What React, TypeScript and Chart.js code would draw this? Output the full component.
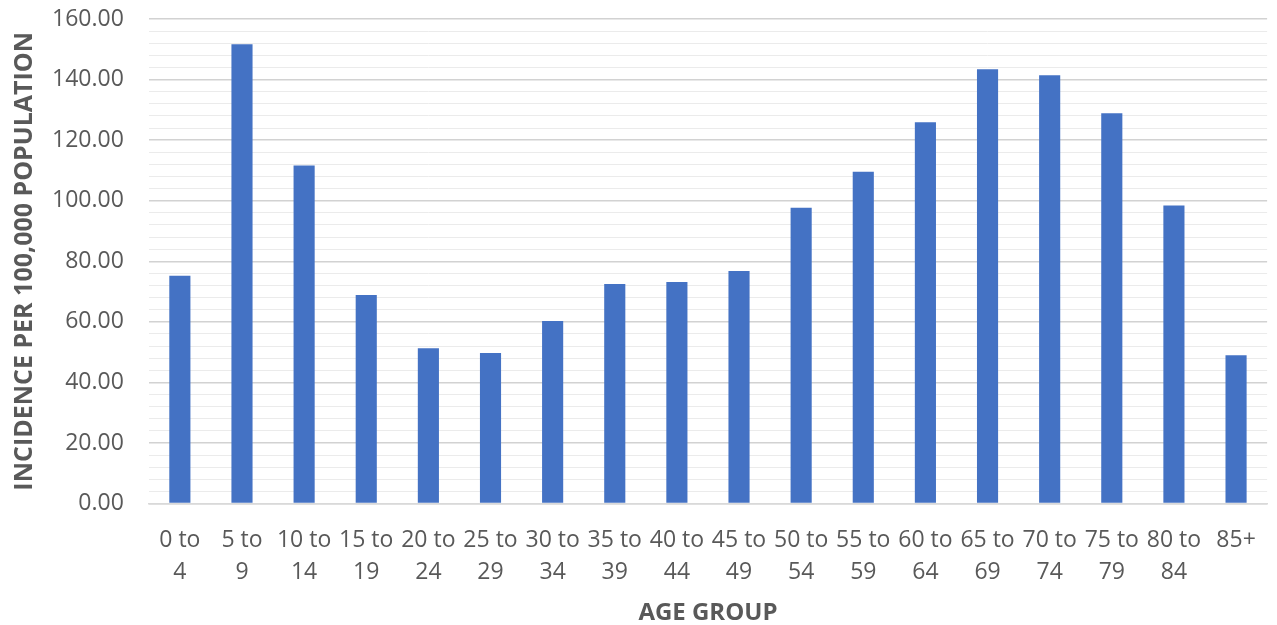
import React, { useEffect, useRef } from "react";
import { Chart, registerables } from "chart.js";

Chart.register(...registerables);

const categories: string[][] = [
  ["0 to", "4"], ["5 to", "9"], ["10 to", "14"], ["15 to", "19"], ["20 to", "24"],
  ["25 to", "29"], ["30 to", "34"], ["35 to", "39"], ["40 to", "44"], ["45 to", "49"],
  ["50 to", "54"], ["55 to", "59"], ["60 to", "64"], ["65 to", "69"], ["70 to", "74"],
  ["75 to", "79"], ["80 to", "84"], ["85+"],
];

const incidence: number[] = [
  75.2, 151.7, 111.6, 68.9, 51.3, 49.7, 60.3, 72.5, 73.2, 76.8,
  97.7, 109.6, 125.9, 143.4, 141.4, 128.9, 98.4, 49.0,
];

const yMin = 0;
const yMax = 160;
const yMinorStep = 4;
const yMajorStep = 20;

const yTitle = "INCIDENCE PER 100,000 POPULATION";
const xTitle = "AGE GROUP";

export default function App() {
  const ref = useRef<HTMLCanvasElement | null>(null);

  useEffect(() => {
    if (!ref.current) return;
    const gray = "#595959";
    const font = "'Open Sans', 'DejaVu Sans', sans-serif";
    const chart = new Chart(ref.current, {
      type: "bar",
      data: {
        labels: categories,
        datasets: [
          {
            data: incidence,
            backgroundColor: "#4472C4",
            borderWidth: 0,
            barPercentage: 0.34,
            categoryPercentage: 1,
          },
        ],
      },
      options: {
        animation: false,
        responsive: true,
        maintainAspectRatio: false,
        layout: { padding: { top: 19, right: 8, left: 12, bottom: 0 } },
        plugins: {
          legend: { display: false },
          tooltip: { enabled: false },
        },
        scales: {
          x: {
            grid: { display: false, drawTicks: false },
            border: { display: true, color: "#d9d9d9", width: 1.5 },
            ticks: {
              color: gray,
              font: { family: font, size: 23, lineHeight: 1.4 },
              padding: 21,
              maxRotation: 0,
              minRotation: 0,
              autoSkip: false,
            },
            title: {
              display: true,
              text: xTitle,
              color: gray,
              font: { family: font, size: 24, weight: "bold", lineHeight: 1.0 },
              padding: { top: -9, bottom: 0 },
            },
          },
          y: {
            min: yMin,
            max: yMax,
            afterFit: (s: any) => {
              s.paddingTop = 0;
              s.paddingBottom = 0;
            },
            grid: {
              drawTicks: false,
              color: (ctx: any) =>
                ctx.tick && ctx.tick.value % yMajorStep === 0 ? "#d2d2d2" : "#ebebeb",
              lineWidth: (ctx: any) =>
                ctx.tick && ctx.tick.value % yMajorStep === 0 ? 1.5 : 1,
            },
            border: { display: false },
            ticks: {
              stepSize: yMinorStep,
              autoSkip: false,
              color: gray,
              padding: 25,
              font: { family: font, size: 23 },
              callback: (v: any) =>
                Number(v) % yMajorStep === 0 ? Number(v).toFixed(2) : "",
            },
            title: {
              display: true,
              text: yTitle,
              color: gray,
              font: { family: font, size: 25, weight: "bold", lineHeight: 1.0 },
              padding: { top: 0, bottom: -10 },
            },
          },
        },
      },
    });
    return () => chart.destroy();
  }, []);

  return (
    <div style={{ position: "fixed", left: 0, top: 0, width: 1277, height: 625, background: "#fff" }}>
      <canvas ref={ref} />
    </div>
  );
}
